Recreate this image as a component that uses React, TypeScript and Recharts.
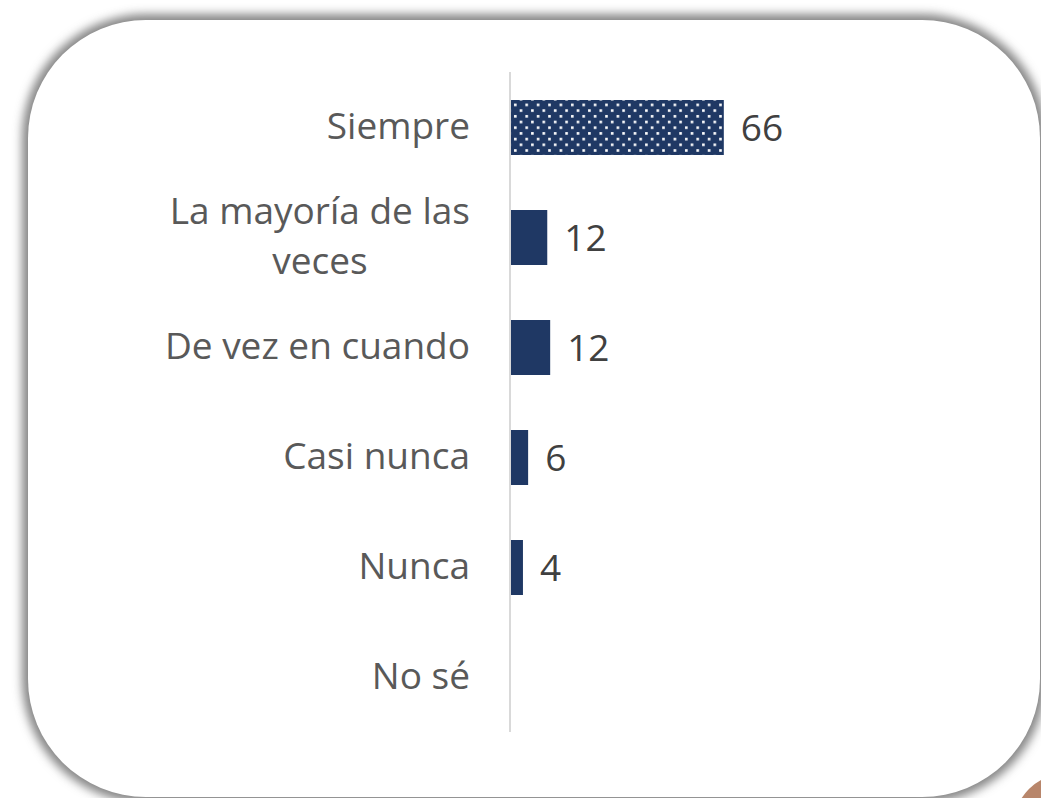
import { Bar, BarChart, Cell, LabelList, XAxis, YAxis } from "recharts";

const categories = [
  "Siempre",
  "La mayoría de las veces",
  "De vez en cuando",
  "Casi nunca",
  "Nunca",
  "No sé",
];
const values = [66, 11.5, 12.4, 5.6, 4, 0.3];

const NAVY = "#1f3864";
const FONT = "'Open Sans', sans-serif";
const TICK_SIZE = 37;

const data = categories.map((name, i) => ({ name, value: values[i] }));

function wrap(label: string, max = 17) {
  const lines: string[] = [];
  let cur = "";
  for (const w of label.split(" ")) {
    const next = cur ? `${cur} ${w}` : w;
    if (next.length > max && cur) {
      lines.push(cur);
      cur = w;
    } else {
      cur = next;
    }
  }
  if (cur) lines.push(cur);
  return lines;
}

let ctx: CanvasRenderingContext2D | null = null;
function measure(s: string) {
  if (!ctx) ctx = document.createElement("canvas").getContext("2d");
  if (!ctx) return s.length * TICK_SIZE * 0.5;
  ctx.font = `${TICK_SIZE}px 'Open Sans'`;
  return ctx.measureText(s).width;
}

// wrapped labels: block right-aligned, lines centred within it
function CategoryTick(props: any) {
  const { x, y, payload } = props;
  const lines = wrap(String(payload.value));
  const lh = 50;
  const start = -((lines.length - 1) * lh) / 2;
  const blockW = Math.max(...lines.map(measure));
  const cx = lines.length > 1 ? x - blockW / 2 : x;
  return (
    <text
      x={x}
      y={y}
      textAnchor={lines.length > 1 ? "middle" : "end"}
      fill="#595959"
      fontFamily={FONT}
      fontSize={TICK_SIZE}
    >
      {lines.map((l, i) => (
        <tspan key={i} x={cx} dy={i === 0 ? start + 12 : lh}>
          {l}
        </tspan>
      ))}
    </text>
  );
}

export default function App() {
  return (
    <div
      style={{
        position: "fixed",
        left: 0,
        top: 0,
        width: 1041,
        height: 798,
        overflow: "hidden",
        background: "#fff",
      }}
    >
      <div
        style={{
          position: "absolute",
          left: 1014,
          top: 774,
          width: 102,
          height: 102,
          borderRadius: "50%",
          background: "#b8866b",
        }}
      />
      <div
        style={{
          position: "absolute",
          left: 28,
          top: 20,
          width: 1012,
          height: 777,
          borderRadius: 118,
          background: "#fff",
          boxShadow: "0 0 10px 6px rgba(70,70,70,0.65)",
        }}
      />
      <div style={{ position: "absolute", left: 0, top: 0 }}>
        <BarChart
          width={1041}
          height={798}
          data={data}
          layout="vertical"
          margin={{ top: 72, right: 207, bottom: 66, left: 0 }}
        >
          <defs>
            <pattern
              id="dots"
              width={11.4}
              height={11.4}
              patternUnits="userSpaceOnUse"
            >
              <rect width={11.4} height={11.4} fill={NAVY} />
              <rect x={1} y={1} width={2.6} height={2.6} fill="#fff" />
              <rect x={6.7} y={6.7} width={2.6} height={2.6} fill="#fff" />
            </pattern>
          </defs>
          <XAxis type="number" domain={[0, 100]} hide />
          <YAxis
            type="category"
            dataKey="name"
            width={510}
            tickSize={0}
            tickMargin={40}
            tickLine={false}
            axisLine={{ stroke: "#d9d9d9", strokeWidth: 2 }}
            tick={<CategoryTick />}
            interval={0}
          />
          <Bar dataKey="value" barSize={55} isAnimationActive={false}>
            {data.map((d, i) => (
              <Cell key={d.name} fill={i === 0 ? "url(#dots)" : NAVY} />
            ))}
            <LabelList
              dataKey="value"
              position="right"
              offset={17}
              fill="#404040"
              fontFamily={FONT}
              fontSize={37}
              formatter={(v: any) => (Number(v) < 1 ? "" : Math.round(Number(v)))}
            />
          </Bar>
        </BarChart>
      </div>
    </div>
  );
}
